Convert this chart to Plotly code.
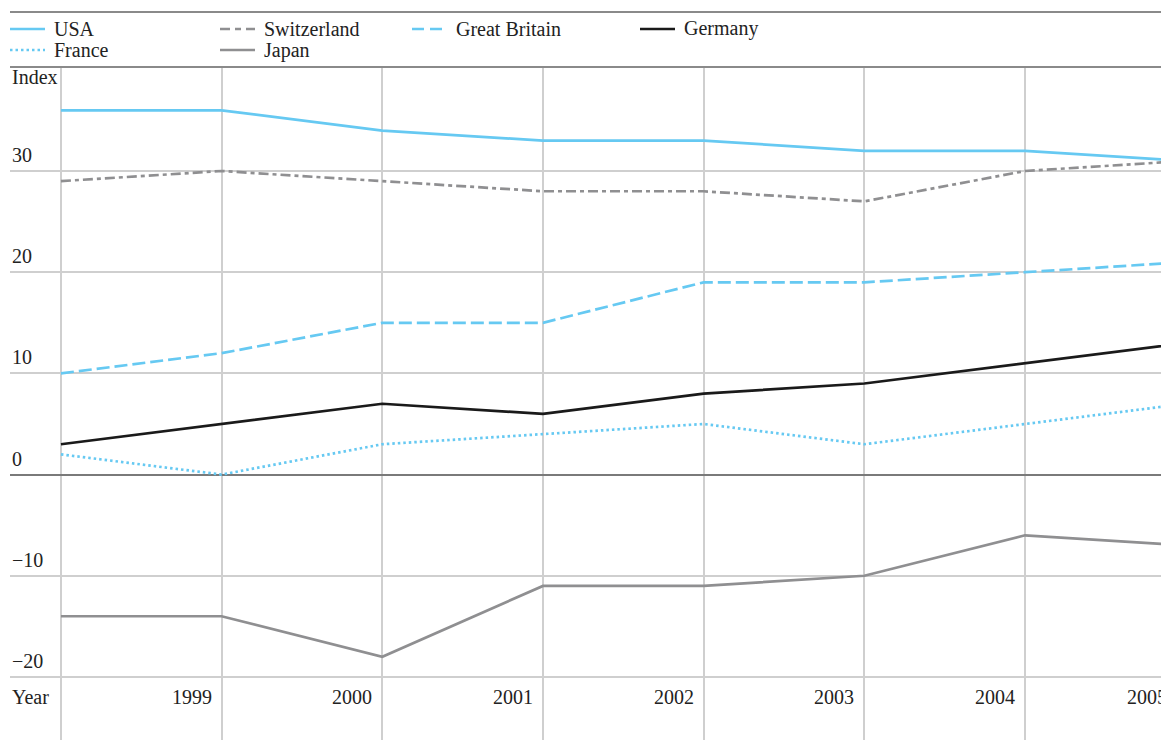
import plotly.graph_objects as go

years = [1998, 1999, 2000, 2001, 2002, 2003, 2004, 2005]
usa = [36, 36, 34, 33, 33, 32, 32, 31]
switzerland = [29, 30, 29, 28, 28, 27, 30, 31]
great_britain = [10, 12, 15, 15, 19, 19, 20, 21]
germany = [3, 5, 7, 6, 8, 9, 11, 13]
france = [2, 0, 3, 4, 5, 3, 5, 7]
japan = [-14, -14, -18, -11, -11, -10, -6, -7]
y_ticks = [-20, -10, 0, 10, 20, 30]
x_labels = ["1999", "2000", "2001", "2002", "2003", "2004", "2005"]

BLUE = "#66c9f2"
GRAY = "#8f8f91"
BLACK = "#1a1a1a"
TXT = "#222222"
FONT = "Liberation Serif, Times New Roman, serif"
FS = 20
LW = 2.7

DASH = "13px,5px"
DOT = "2.5px,3px"
DASHDOT = "10px,4px,4px,4px"

series = [
    ("USA", usa, BLUE, "solid"),
    ("Switzerland", switzerland, GRAY, DASHDOT),
    ("Great Britain", great_britain, BLUE, DASH),
    ("Germany", germany, BLACK, "solid"),
    ("France", france, BLUE, DOT),
    ("Japan", japan, GRAY, "solid"),
]

fig = go.Figure()
for name, vals, col, dash in series:
    fig.add_trace(go.Scatter(x=years, y=vals, mode="lines", name=name,
                             line=dict(color=col, dash=dash, width=LW),
                             showlegend=False))

# page body has an 8px margin: work in reference pixels and subtract it
OFF = 8
W, H = 1169 - OFF, 740 - OFF
L, T = 10 - OFF, 67 - OFF

fig.update_layout(
    width=W, height=H, autosize=False,
    margin=dict(l=L, r=0, t=T, b=0, pad=0),
    paper_bgcolor="white", plot_bgcolor="white",
    font=dict(family=FONT, size=FS, color=TXT),
    xaxis=dict(range=[1997.683, 2004.896], tickvals=years[:-1], showgrid=True,
               gridcolor="#cfcfcf", gridwidth=1.5, showticklabels=False,
               zeroline=False, showline=False, fixedrange=True),
    yaxis=dict(range=[-26.23, 40.28], tickvals=y_ticks, showgrid=True,
               gridcolor="#cfcfcf", gridwidth=1.5, showticklabels=False,
               zeroline=True, zerolinecolor="#7a7a7a", zerolinewidth=2,
               showline=False, fixedrange=True),
)

def px_to_paper_x(px):
    return (px - OFF - L) / (W - L)

def px_to_paper_y(py):
    return (H - (py - OFF)) / (H - T)

shapes = []
annotations = []

for ypx in (12, 67):
    shapes.append(dict(type="line", xref="paper", yref="paper",
                       x0=0, x1=1.0, y0=px_to_paper_y(ypx), y1=px_to_paper_y(ypx),
                       line=dict(color="#8a8a8a", width=2)))

legend_items = [
    ("USA", BLUE, "solid", 10, 45, 29),
    ("Switzerland", GRAY, "10px,5px,6px,5px", 220, 255, 29),
    ("Great Britain", BLUE, "12px,6px", 412, 447, 29),
    ("Germany", BLACK, "solid", 640, 675, 29),
    ("France", BLUE, DOT, 10, 45, 50),
    ("Japan", GRAY, "solid", 220, 255, 50),
]
for name, col, dash, x0, x1, yc in legend_items:
    shapes.append(dict(type="line", xref="paper", yref="paper",
                       x0=px_to_paper_x(x0), x1=px_to_paper_x(x1),
                       y0=px_to_paper_y(yc), y1=px_to_paper_y(yc),
                       line=dict(color=col, dash=dash, width=LW)))
    annotations.append(dict(text=name, xref="paper", yref="paper",
                            x=px_to_paper_x(x1 + 7), y=px_to_paper_y(yc),
                            xanchor="left", yanchor="middle", showarrow=False,
                            font=dict(family=FONT, size=FS, color=TXT)))

for v in y_ticks:
    lab = str(v).replace("-", "\u2212")
    annotations.append(dict(text=lab, xref="paper", yref="y", x=0, y=v,
                            xanchor="left", yanchor="bottom", yshift=3,
                            showarrow=False, font=dict(family=FONT, size=FS, color=TXT)))

annotations.append(dict(text="Index", xref="paper", yref="paper", x=0,
                        y=px_to_paper_y(77), xanchor="left", yanchor="middle",
                        showarrow=False, font=dict(family=FONT, size=FS, color=TXT)))
annotations.append(dict(text="Year", xref="paper", yref="paper", x=0,
                        y=px_to_paper_y(697), xanchor="left", yanchor="middle",
                        showarrow=False, font=dict(family=FONT, size=FS, color=TXT)))

for i, lab in enumerate(x_labels):
    yr = years[i + 1]
    if yr <= 2004:
        annotations.append(dict(text=lab, xref="x", yref="paper", x=yr,
                                y=px_to_paper_y(697), xanchor="right", yanchor="middle",
                                xshift=-8, showarrow=False,
                                font=dict(family=FONT, size=FS, color=TXT)))
    else:
        annotations.append(dict(text=lab, xref="paper", yref="paper", x=1,
                                y=px_to_paper_y(697), xanchor="right", yanchor="middle",
                                xshift=0, showarrow=False,
                                font=dict(family=FONT, size=FS, color=TXT)))

fig.update_layout(shapes=shapes, annotations=annotations)
fig.write_html("out.html")
